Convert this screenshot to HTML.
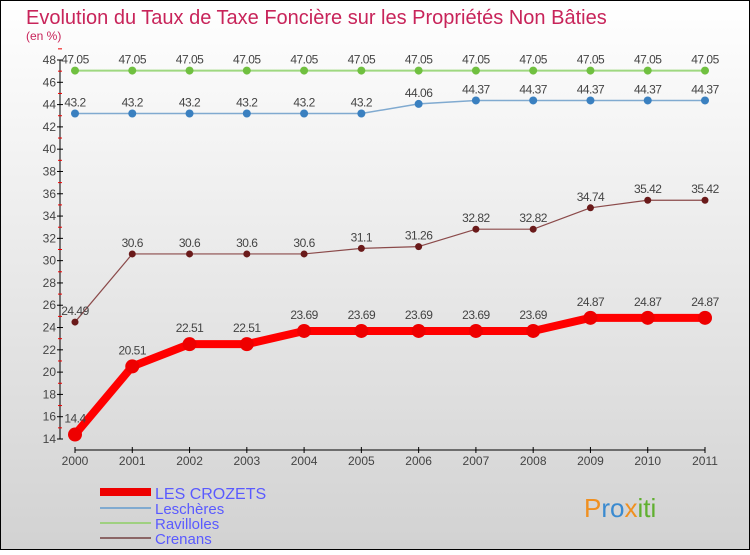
<!DOCTYPE html>
<html><head><meta charset="utf-8"><style>
body{margin:0}
svg text{font-family:"Liberation Sans",sans-serif}
</style></head><body>
<svg width="750" height="550" xmlns="http://www.w3.org/2000/svg">
<defs><linearGradient id="bg" x1="0" y1="0" x2="0" y2="1"><stop offset="0" stop-color="#ffffff"/><stop offset="1" stop-color="#d2d2d2"/></linearGradient></defs>
<rect x="0.5" y="0.5" width="749" height="549" fill="url(#bg)" stroke="#000"/>
<text x="26" y="24" font-size="20" fill="#c8245a">Evolution du Taux de Taxe Foncière sur les Propriétés Non Bâties</text>
<text x="26" y="40" font-size="12" fill="#c8245a">(en %)</text>
<g id="axes"></g>
<g id="series"></g>
<g>
<line x1="100" y1="492" x2="151" y2="492" stroke="#e00" stroke-width="8"/>
<text x="155" y="499" font-size="16" fill="#5a5aff">LES CROZETS</text>
<line x1="100" y1="508" x2="151" y2="508" stroke="#80aad0" stroke-width="2"/>
<text x="155" y="514" font-size="15" fill="#5a5aff">Leschères</text>
<line x1="100" y1="523" x2="151" y2="523" stroke="#9fd080" stroke-width="2"/>
<text x="155" y="529" font-size="15" fill="#5a5aff">Ravilloles</text>
<line x1="100" y1="538" x2="151" y2="538" stroke="#8b6666" stroke-width="2"/>
<text x="155" y="544" font-size="15" fill="#5a5aff">Crenans</text>
</g>
<text x="584" y="517" font-size="26" fill="#3a8ad0"><tspan fill="#f09020">P</tspan>ro<tspan fill="#f09020">x</tspan><tspan fill="#60b030">iti</tspan></text>
</svg>
<script>
const years=[2000,2001,2002,2003,2004,2005,2006,2007,2008,2009,2010,2011];
const crozets=[14.4,20.51,22.51,22.51,23.69,23.69,23.69,23.69,23.69,24.87,24.87,24.87];
const lescheres=[43.2,43.2,43.2,43.2,43.2,43.2,44.06,44.37,44.37,44.37,44.37,44.37];
const ravilloles=[47.05,47.05,47.05,47.05,47.05,47.05,47.05,47.05,47.05,47.05,47.05,47.05];
const crenans=[24.49,30.6,30.6,30.6,30.6,31.1,31.26,32.82,32.82,34.74,35.42,35.42];
const yTicks=[14,16,18,20,22,24,26,28,30,32,34,36,38,40,42,44,46,48];
const NS="http://www.w3.org/2000/svg";
const X=i=>75+i*(630/11);
const Y=v=>439-(v-14)*(379/34);
function mk(t,a,p){const e=document.createElementNS(NS,t);for(const k in a)e.setAttribute(k,a[k]);p.appendChild(e);return e;}
const ax=document.getElementById('axes');
let e=mk('line',{x1:60,y1:60,x2:60,y2:439,stroke:'#000'},ax);

yTicks.forEach(v=>{mk('line',{x1:57,y1:Y(v),x2:63,y2:Y(v),stroke:'#000'},ax);
 mk('line',{x1:58,y1:Y(v+1),x2:62,y2:Y(v+1),stroke:'#e00'},ax);
 const t=mk('text',{x:56,y:Y(v)+4,'font-size':12,fill:'#444','text-anchor':'end'},ax);t.textContent=v;
 });
e=mk('line',{x1:75,y1:450,x2:705,y2:450,stroke:'#000'},ax);

years.forEach((y,i)=>{mk('line',{x1:X(i),y1:447,x2:X(i),y2:453,stroke:'#000'},ax);
 const t=mk('text',{x:X(i),y:465,'font-size':12,fill:'#444','text-anchor':'middle'},ax);t.textContent=y;
 });
const sg=document.getElementById('series');
function series(name,data,col,dot,w,r,lab){
 const g=mk('g',{},sg);
 mk('polyline',{points:data.map((v,i)=>X(i)+','+Y(v)).join(' '),fill:'none',stroke:col,'stroke-width':w,'stroke-linejoin':'round'},g);
 data.forEach((v,i)=>{const c=mk('circle',{cx:X(i),cy:Y(v),r:r,fill:dot},g);
  
  const t=mk('text',{x:X(i),y:Y(v)-lab,'font-size':12,fill:'#444','text-anchor':'middle','letter-spacing':'-0.5'},g);t.textContent=v;
  });
}
series('ravilloles-line',ravilloles,'#9fd880','#70c040',2,4,7);
series('lescheres-line',lescheres,'#80aad0','#3a80c0',1.5,4,7);
series('crenans-line',crenans,'#8b4a4a','#6a1a1a',1.2,3.5,7);
series('crozets-line',crozets,'#f00','#e00',8,7,12);
</script>
</body></html>
